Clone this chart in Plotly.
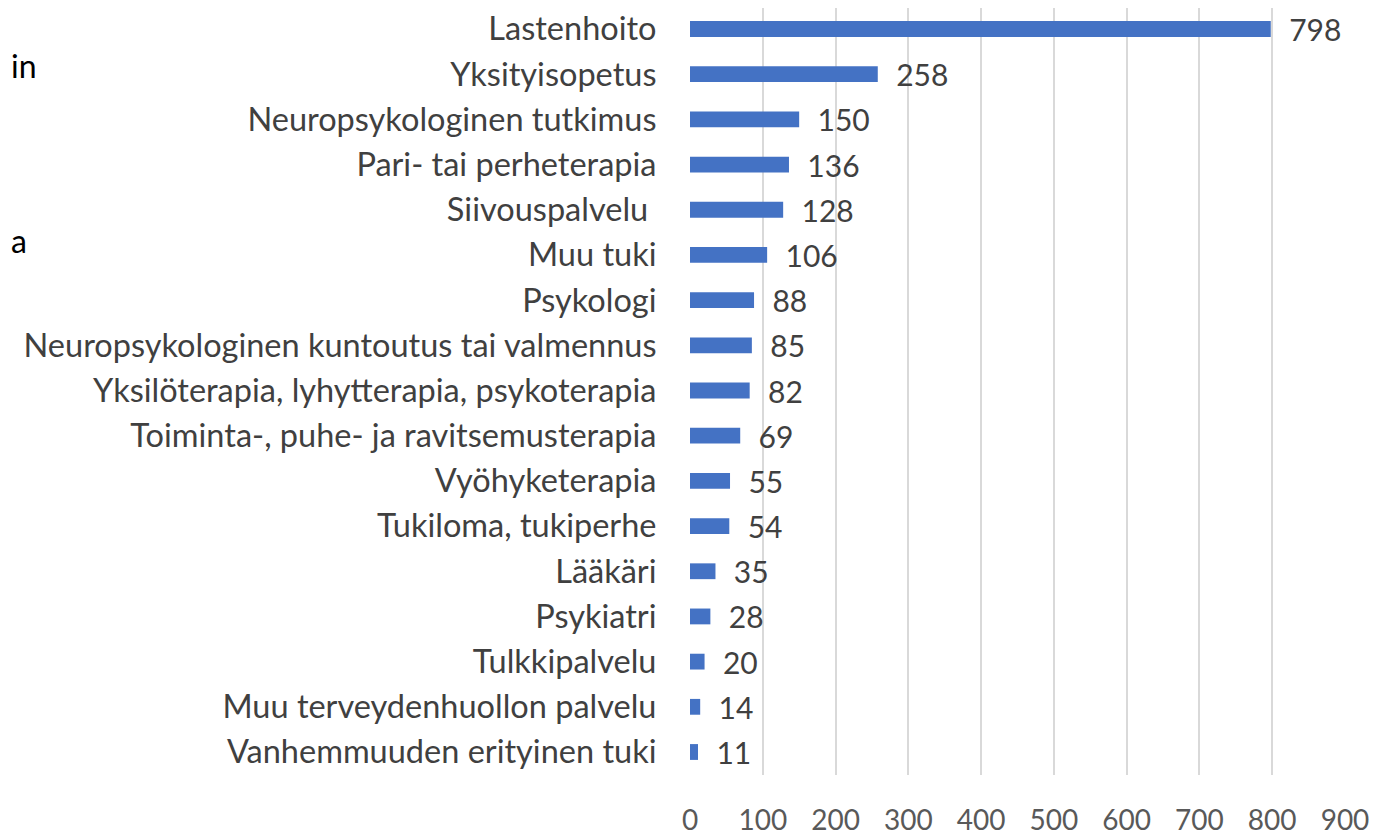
import plotly.graph_objects as go

categories = [
    "Lastenhoito", "Yksityisopetus", "Neuropsykologinen tutkimus", "Pari- tai perheterapia",
    "Siivouspalvelu ", "Muu tuki", "Psykologi", "Neuropsykologinen kuntoutus tai valmennus",
    "Yksilöterapia, lyhytterapia, psykoterapia", "Toiminta-, puhe- ja ravitsemusterapia",
    "Vyöhyketerapia", "Tukiloma, tukiperhe", "Lääkäri", "Psykiatri", "Tulkkipalvelu",
    "Muu terveydenhuollon palvelu", "Vanhemmuuden erityinen tuki",
]
values = [798, 258, 150, 136, 128, 106, 88, 85, 82, 69, 55, 54, 35, 28, 20, 14, 11]
x_ticks = [0, 100, 200, 300, 400, 500, 600, 700, 800, 900]

FONT = "Lato"
W, H = 1391, 827
ML, MR, MT, MB = 682, 54, 0, 60
PW, PH = W - ML - MR, H - MT - MB


def px(page_x):
    return (page_x - 8 - ML) / PW


def py(page_y):
    return 1 - (page_y - 8 - MT) / PH


fig = go.Figure(go.Bar(
    y=categories, x=values, orientation="h",
    marker=dict(color="#4472C4", line=dict(width=0)),
    width=0.35,
    text=["  " + str(v) for v in values],
    textposition="outside",
    constraintext="none",
    textfont=dict(family=FONT, size=30, color="#404040"),
    cliponaxis=False,
))

fig.update_layout(
    width=W, height=H,
    margin=dict(l=ML, r=MR, t=MT, b=MB, autoexpand=False),
    paper_bgcolor="white", plot_bgcolor="white",
    showlegend=False,
    xaxis=dict(
        range=[0, 900], tickvals=x_ticks, showgrid=True, gridcolor="#D9D9D9", gridwidth=1.5,
        zeroline=False, showline=False,
        ticks="outside", ticklen=20, tickcolor="rgba(0,0,0,0)",
        tickfont=dict(family=FONT, size=28, color="#595959"),
    ),
    yaxis=dict(
        range=[16.509, -0.465], showgrid=False, zeroline=False, showline=False,
        ticks="outside", ticklen=26, tickcolor="rgba(0,0,0,0)",
        tickfont=dict(family=FONT, size=32.5, color="#404040"),
    ),
    annotations=[
        dict(text="in", xref="paper", yref="paper", x=px(9), y=py(65),
             xanchor="left", yanchor="middle", showarrow=False,
             font=dict(family=FONT, size=32, color="#000000")),
        dict(text="a", xref="paper", yref="paper", x=px(9), y=py(240),
             xanchor="left", yanchor="middle", showarrow=False,
             font=dict(family=FONT, size=32, color="#000000")),
    ],
)

fig.write_html("out.html")
